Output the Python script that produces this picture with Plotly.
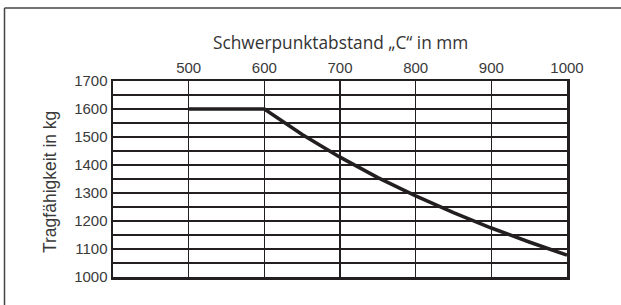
import plotly.graph_objects as go

# Data
distance_mm = [500, 600, 650, 700, 750, 800, 850, 900, 950, 1000]
capacity_kg = [1600, 1600, 1509, 1428, 1355, 1290, 1230, 1175, 1125, 1078]

x_tick_vals = [500, 600, 700, 800, 900, 1000]
x_tick_text = ["500", "600", "700", "800", "900", "1000"]
y_tick_vals = [1000, 1050, 1100, 1150, 1200, 1250, 1300, 1350, 1400, 1450,
               1500, 1550, 1600, 1650, 1700]
y_tick_text = ["1000", "", "1100", "", "1200", "", "1300", "", "1400", "",
               "1500", "", "1600", "", "1700"]

title_text = "Schwerpunktabstand „C“ in mm"
y_title_text = "Tragfähigkeit in kg"

ink = "#231f20"
W, H = 621, 305
ml, mr, mt, mb = 113, 54, 81, 28
pw, ph = W - ml - mr, H - mt - mb


def px_to_paper_x(px):
    return (px - ml) / pw


def px_to_paper_y(py):
    return (H - mb - py) / ph


tick_font = dict(family="Liberation Sans, Arial, sans-serif", size=15, color="#3a3a3a")

fig = go.Figure()
fig.add_trace(go.Scatter(
    x=distance_mm, y=capacity_kg, mode="lines",
    line=dict(color=ink, width=3.5, shape="linear"),
    hoverinfo="skip", showlegend=False, cliponaxis=False,
))

fig.update_layout(
    width=W, height=H,
    margin=dict(l=ml, r=mr, t=mt, b=mb, autoexpand=False),
    paper_bgcolor="white", plot_bgcolor="white",
    xaxis=dict(
        side="top", range=[400, 1000], tickvals=x_tick_vals, ticktext=x_tick_text,
        showgrid=True, gridcolor=ink, gridwidth=1.6,
        showline=True, mirror=True, linecolor=ink, linewidth=2.5,
        ticks="", ticklen=0, zeroline=False, automargin=False,
        tickfont=tick_font,
    ),
    yaxis=dict(
        range=[1000, 1700], tickvals=y_tick_vals, ticktext=y_tick_text,
        showgrid=True, gridcolor=ink, gridwidth=1.6,
        showline=True, mirror=True, linecolor=ink, linewidth=2.5,
        ticks="", ticklen=0, zeroline=False, automargin=False,
        tickfont=tick_font,
    ),
    annotations=[
        dict(text=title_text, xref="paper", yref="paper",
             x=0.5, y=px_to_paper_y(43), xanchor="center", yanchor="middle",
             showarrow=False,
             font=dict(family="Open Sans, sans-serif", size=17.3, color="#333333")),
        dict(text=y_title_text, xref="paper", yref="paper",
             x=px_to_paper_x(50), y=px_to_paper_y(182), xanchor="center", yanchor="middle",
             textangle=-90, showarrow=False,
             font=dict(family="Liberation Sans, Arial, sans-serif", size=17.5, color="#3a3a3a")),
    ],
    shapes=[
        dict(type="line", xref="paper", yref="paper",
             x0=px_to_paper_x(4.5), x1=px_to_paper_x(W + 2),
             y0=px_to_paper_y(8), y1=px_to_paper_y(8),
             line=dict(color="#444444", width=1.5)),
        dict(type="line", xref="paper", yref="paper",
             x0=px_to_paper_x(4.5), x1=px_to_paper_x(4.5),
             y0=px_to_paper_y(8), y1=px_to_paper_y(H + 2),
             line=dict(color="#444444", width=1.5)),
    ],
)

fig.write_html(
    "out.html",
    config={"displayModeBar": False, "staticPlot": True},
    post_script="document.body.style.margin='0';document.body.style.overflow='hidden';",
)
